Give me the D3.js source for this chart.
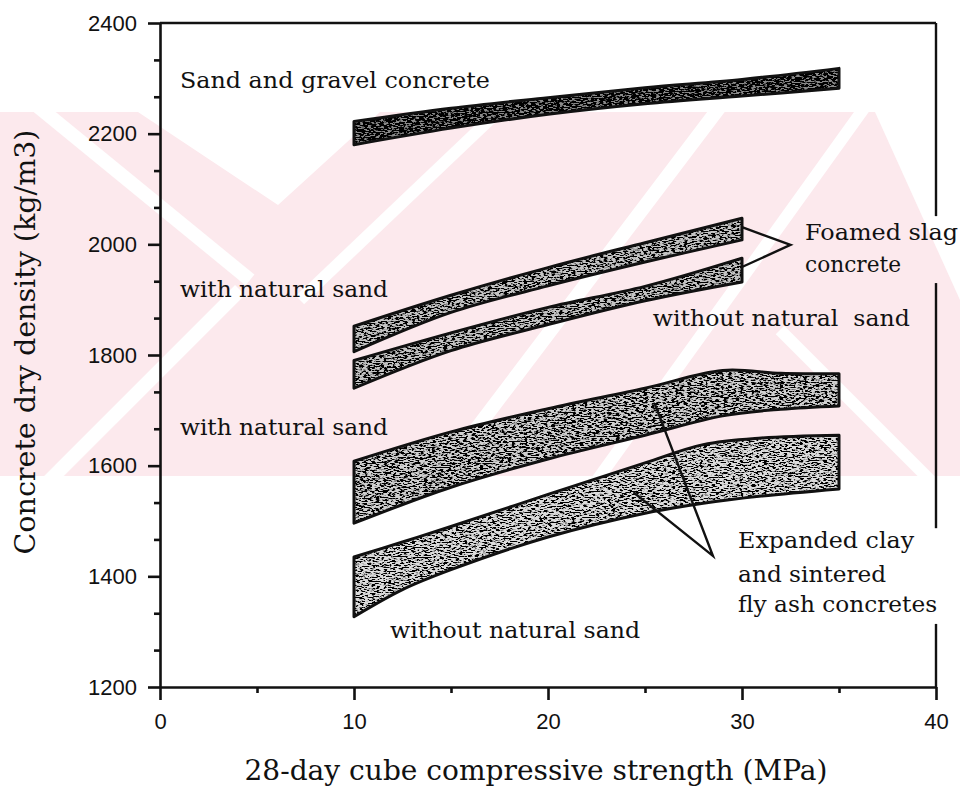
<!DOCTYPE html>
<html>
<head>
<meta charset="utf-8">
<script src="https://cdn.jsdelivr.net/npm/d3@7"></script>
<style>
  body { margin: 0; background: #fff; }
  svg { display: block; }
  .lbl { font-family: "DejaVu Serif", serif; fill: #111; }
</style>
</head>
<body>
<svg id="chart" width="960" height="787"></svg>
<script>
// axis ticks
const xTicks = [0, 10, 20, 30, 40];
const xMinorTicks = [5, 15, 25, 35];
const yTicks = [1200, 1400, 1600, 1800, 2000, 2200, 2400];
const yMinorTicks = [1266.7, 1333.3, 1466.7, 1533.3, 1666.7, 1733.3, 1866.7, 1933.3,
  2066.7, 2133.3, 2266.7, 2333.3];

// bands: strength (MPa) and lower / upper density (kg/m3)
const sandGravelX = [10, 15, 20, 25, 30, 35];
const sandGravelLow = [2180, 2210, 2235, 2254, 2268, 2282];
const sandGravelHigh = [2222, 2246, 2265, 2283, 2298, 2318];

const slagWithX = [10, 15, 20, 25, 30];
const slagWithLow = [1806, 1877, 1925, 1968, 2008];
const slagWithHigh = [1852, 1908, 1958, 2003, 2047];

const slagWithoutX = [10, 15, 20, 25, 30];
const slagWithoutLow = [1740, 1808, 1855, 1898, 1932];
const slagWithoutHigh = [1790, 1840, 1886, 1924, 1975];

const clayWithX = [10, 15, 20, 25, 29, 32, 35];
const clayWithLow = [1496, 1561, 1612, 1655, 1690, 1702, 1708];
const clayWithHigh = [1608, 1661, 1703, 1740, 1772, 1767, 1766];

const clayWithoutX = [10, 12.5, 15, 20, 25, 28, 31, 35];
const clayWithoutLow = [1327, 1376, 1412, 1471, 1514, 1532, 1545, 1558];
const clayWithoutHigh = [1435, 1462, 1490, 1548, 1605, 1638, 1650, 1655];

// leader lines for the two group labels (strength, density)
const slagLeader = [[30, 2031], [32.5, 1999], [30, 1959]];
const clayLeader = [[25.5, 1712], [28.5, 1437], [24.4, 1552]];

// right frame is broken where the group labels sit
const rightFrameGaps = [[2051, 1930], [1487, 1314]];

const svg = d3.select("#chart");
const x = d3.scaleLinear().domain([0, 40]).range([160, 936]);
const y = d3.scaleLinear().domain([1200, 2400]).range([687, 23]);

// faint pink watermark behind the chart
const defs = svg.append("defs");
defs.append("clipPath").attr("id", "wmclip")
  .append("rect").attr("x", 0).attr("y", 112).attr("width", 960).attr("height", 364);
const wmg = svg.append("g").attr("clip-path", "url(#wmclip)");
wmg.append("rect").attr("x", 0).attr("y", 112).attr("width", 960).attr("height", 364).attr("fill", "#fce9ed");
wmg.append("path").attr("d", "M138,112 L380,112 L278,205 Z").attr("fill", "#fff");
wmg.append("path").attr("d", "M875,112 L960,112 L960,300 Z").attr("fill", "#fff");
const wmStripes = [
  [30, 100, 250, 280, 14],
  [300, 300, 505, 105, 12],
  [430, 490, 725, 100, 14],
  [590, 490, 870, 100, 12],
  [40, 490, 240, 290, 14],
  [780, 330, 940, 490, 12]
];
wmStripes.forEach(s => {
  wmg.append("line").attr("x1", s[0]).attr("y1", s[1]).attr("x2", s[2]).attr("y2", s[3])
    .attr("stroke", "#fff").attr("stroke-width", s[4]);
});

// speckle texture filters
function makeTexture(id, seed, bias) {
  const f = defs.append("filter").attr("id", id)
    .attr("filterUnits", "userSpaceOnUse")
    .attr("x", 0).attr("y", 0).attr("width", 960).attr("height", 787);
  f.append("feTurbulence").attr("type", "fractalNoise")
    .attr("baseFrequency", "0.25 0.8").attr("numOctaves", 3).attr("seed", seed).attr("result", "noise");
  f.append("feColorMatrix").attr("in", "noise").attr("type", "matrix")
    .attr("values", `0 0 0 0 0  0 0 0 0 0  0 0 0 0 0  -9 0 0 0 ${bias}`).attr("result", "dots");
  f.append("feComposite").attr("in", "dots").attr("in2", "SourceGraphic").attr("operator", "in").attr("result", "clip");
  const m = f.append("feMerge");
  m.append("feMergeNode").attr("in", "SourceGraphic");
  m.append("feMergeNode").attr("in", "clip");
}

const bands = [
  { xs: sandGravelX, lo: sandGravelLow, hi: sandGravelHigh, base: "#8a8a8a", bias: 5.6 },
  { xs: slagWithX, lo: slagWithLow, hi: slagWithHigh, base: "#c4c4c4", bias: 5.0 },
  { xs: slagWithoutX, lo: slagWithoutLow, hi: slagWithoutHigh, base: "#c4c4c4", bias: 5.0 },
  { xs: clayWithX, lo: clayWithLow, hi: clayWithHigh, base: "#d0d0d0", bias: 5.0 },
  { xs: clayWithoutX, lo: clayWithoutLow, hi: clayWithoutHigh, base: "#dcdcdc", bias: 4.8 }
];

const area = d3.area()
  .x(d => x(d.x))
  .y0(d => y(d.lo))
  .y1(d => y(d.hi))
  .curve(d3.curveCatmullRom.alpha(0.5));

bands.forEach((b, i) => {
  const pts = b.xs.map((v, j) => ({ x: v, lo: b.lo[j], hi: b.hi[j] }));
  makeTexture("tex" + i, i + 3, b.bias);
  svg.append("path").datum(pts)
    .attr("d", area)
    .attr("fill", b.base)
    .attr("filter", `url(#tex${i})`);
  svg.append("path").datum(pts)
    .attr("d", area)
    .attr("fill", "none")
    .attr("stroke", "#111")
    .attr("stroke-width", 3)
    .attr("stroke-linejoin", "round");
});

// axes
svg.append("g").attr("transform", `translate(0,${y(1200)})`)
  .call(d3.axisBottom(x).tickValues(xTicks).tickFormat(d3.format("d"))
    .tickSize(13).tickSizeOuter(0).tickPadding(13));
svg.append("g").attr("transform", `translate(0,${y(1200)})`)
  .call(d3.axisBottom(x).tickValues(xMinorTicks).tickSize(6).tickFormat(""))
  .call(g => g.select(".domain").remove());
svg.append("g").attr("transform", `translate(${x(0)},0)`)
  .call(d3.axisLeft(y).tickValues(yTicks).tickFormat(d3.format("d"))
    .tickSize(12).tickSizeOuter(0).tickPadding(11));
svg.append("g").attr("transform", `translate(${x(0)},0)`)
  .call(d3.axisLeft(y).tickValues(yMinorTicks).tickSize(6).tickFormat(""))
  .call(g => g.select(".domain").remove());

svg.selectAll(".domain, .tick line").attr("stroke", "#111").attr("stroke-width", 2.6);
svg.selectAll(".tick text")
  .attr("font-family", "'Liberation Sans', Arial, sans-serif")
  .attr("font-size", 22)
  .attr("fill", "#111");

// frame: top line and broken right line
svg.append("line")
  .attr("x1", x(0)).attr("x2", x(40)).attr("y1", y(2400)).attr("y2", y(2400))
  .attr("stroke", "#111").attr("stroke-width", 2.6);
const rightStops = [2400].concat(rightFrameGaps.flat(), [1200]);
for (let i = 0; i < rightStops.length; i += 2) {
  svg.append("line")
    .attr("x1", x(40)).attr("x2", x(40))
    .attr("y1", y(rightStops[i])).attr("y2", y(rightStops[i + 1]))
    .attr("stroke", "#111").attr("stroke-width", 2.4);
}

// leader lines
const leader = d3.line().x(d => x(d[0])).y(d => y(d[1]));
[slagLeader, clayLeader].forEach(l => {
  svg.append("path").attr("d", leader(l))
    .attr("fill", "none").attr("stroke", "#111").attr("stroke-width", 2.4);
});

// text labels: [text, strength, density, width]
const labels = [
  ["Sand and gravel concrete", 1.03, 2283, 310],
  ["with natural sand", 1.03, 1905, 208],
  ["with natural sand", 1.03, 1655, 208],
  ["without natural  sand", 25.4, 1852, 257],
  ["without natural sand", 11.86, 1289, 250],
  ["Foamed slag", 33.25, 2008, 153],
  ["concrete", 33.25, 1950, 96],
  ["Expanded clay", 29.8, 1451, 176],
  ["and sintered", 29.8, 1390, 148],
  ["fly ash concretes", 29.8, 1336, 199]
];
labels.forEach(l => {
  svg.append("text").attr("class", "lbl")
    .attr("x", x(l[1])).attr("y", y(l[2]))
    .attr("font-size", 23)
    .attr("textLength", l[3]).attr("lengthAdjust", "spacingAndGlyphs")
    .style("white-space", "pre")
    .text(l[0]);
});

// axis titles
svg.append("text").attr("class", "lbl")
  .attr("x", 536).attr("y", 780)
  .attr("text-anchor", "middle")
  .attr("font-size", 27)
  .attr("textLength", 583).attr("lengthAdjust", "spacingAndGlyphs")
  .text("28-day cube compressive strength (MPa)");
svg.append("text").attr("class", "lbl")
  .attr("transform", "translate(35,342) rotate(-90)")
  .attr("text-anchor", "middle")
  .attr("font-size", 27)
  .attr("textLength", 425).attr("lengthAdjust", "spacingAndGlyphs")
  .text("Concrete dry density (kg/m3)");
</script>
</body>
</html>
